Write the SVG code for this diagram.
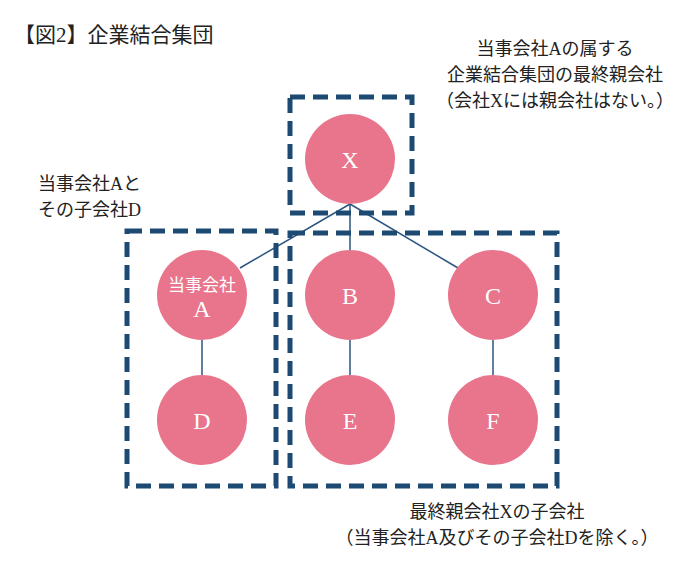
<svg xmlns="http://www.w3.org/2000/svg" width="700" height="572" viewBox="0 0 700 572">
<style>
.n{fill:#e8758b}
.nt{fill:#fff;font-family:"Liberation Serif","Noto Sans CJK JP",serif;font-size:24px;text-anchor:middle}
.box{fill:none;stroke:#1d4a73;stroke-width:5;stroke-dasharray:15 8}
.t{fill:#222;font-family:"Liberation Serif","Noto Sans CJK JP",serif;font-size:18px}
.c{stroke:#2a5580;stroke-width:1.5;fill:none}
</style>
<rect width="700" height="572" fill="#fff"/>
<text class="t" x="14" y="42" font-size="21" style="font-size:21px">【図2】企業結合集団</text>
<g id="connectors">
<line class="c" x1="350" y1="204" x2="240" y2="268"/>
<line class="c" x1="350" y1="204" x2="350" y2="250"/>
<line class="c" x1="350" y1="204" x2="458" y2="268"/>
<line class="c" x1="202" y1="340" x2="202" y2="375"/>
<line class="c" x1="350" y1="340" x2="350" y2="375"/>
<line class="c" x1="493" y1="340" x2="493" y2="375"/>
</g>
<g id="boxes">
<rect class="box" x="290" y="97" width="122" height="116"/>
<rect class="box" x="127" y="231" width="149" height="255"/>
<rect class="box" x="290" y="233" width="267" height="253"/>
</g>
<g id="X"><circle class="n" cx="350" cy="159" r="45"/><text class="nt" x="350" y="168">X</text></g>
<g id="A"><circle class="n" cx="202" cy="295" r="45"/><text class="nt" x="202" y="291" style="font-size:17px">当事会社</text><text class="nt" x="202" y="317">A</text></g>
<g id="B"><circle class="n" cx="350" cy="295" r="45"/><text class="nt" x="350" y="304">B</text></g>
<g id="C"><circle class="n" cx="493" cy="295" r="45"/><text class="nt" x="493" y="304">C</text></g>
<g id="D"><circle class="n" cx="202" cy="420" r="45"/><text class="nt" x="202" y="429">D</text></g>
<g id="E"><circle class="n" cx="350" cy="420" r="45"/><text class="nt" x="350" y="429">E</text></g>
<g id="F"><circle class="n" cx="493" cy="420" r="45"/><text class="nt" x="493" y="429">F</text></g>
<g id="labels">
<text class="t" x="555" y="55" text-anchor="middle">当事会社Aの属する</text>
<text class="t" x="555" y="81" text-anchor="middle">企業結合集団の最終親会社</text>
<text class="t" x="555" y="107" text-anchor="middle">（会社Xには親会社はない。）</text>
<text class="t" x="38" y="190">当事会社Aと</text>
<text class="t" x="38" y="216">その子会社D</text>
<text class="t" x="497" y="518" text-anchor="middle">最終親会社Xの子会社</text>
<text class="t" x="497" y="544" text-anchor="middle">（当事会社A及びその子会社Dを除く。）</text>
</g>
</svg>
